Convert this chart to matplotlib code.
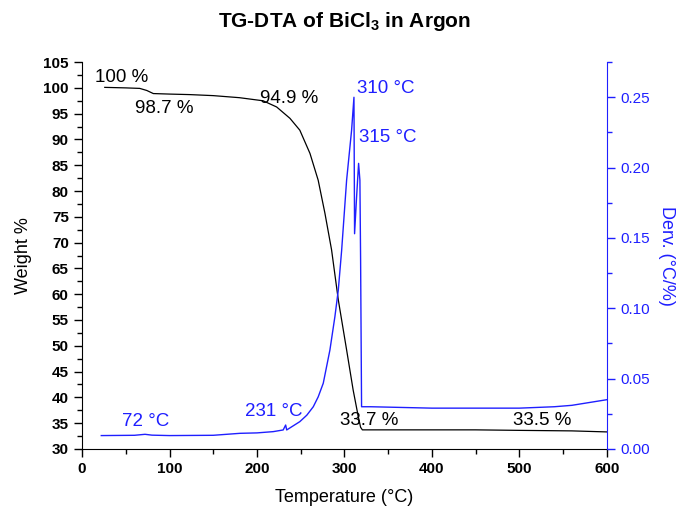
import matplotlib
matplotlib.use("Agg")
import matplotlib.pyplot as plt
from matplotlib.ticker import MultipleLocator

plt.rcParams['font.family'] = ['Liberation Sans', 'DejaVu Sans']
plt.rcParams['mathtext.fontset'] = 'custom'
plt.rcParams['mathtext.rm'] = 'Liberation Sans'
plt.rcParams['mathtext.bf'] = 'Liberation Sans:bold'

# TG curve (weight %)
tg_temp = [26, 50, 66, 74, 81.5, 100, 123, 150, 180, 207, 222.5, 237.7, 249, 260.6,
           270, 277.7, 285.3, 293, 302.5, 310, 315.8, 318.5, 320.5, 350, 450, 500,
           560, 600]
tg_weight = [100.1, 100.0, 99.9, 99.5, 98.9, 98.8, 98.7, 98.5, 98.1, 97.5, 96.3, 94.1,
             91.8, 87.3, 82.1, 75.7, 68.6, 58.9, 49.2, 41.4, 36.3, 34.2, 33.7, 33.7,
             33.7, 33.6, 33.5, 33.3]

# DTA / derivative curve
dta_temp = [22, 60, 72, 80, 100, 150, 180.6, 200, 218.6, 230, 232.8, 234, 249, 257,
            264.4, 270, 275.8, 283.4, 289.1, 293, 296.8, 302.5, 308.2, 310.9, 311.6,
            313.9, 316.2, 317.7, 318.5, 319.6, 330, 400, 500, 540, 560, 580, 600]
dta_derv = [0.0095, 0.0097, 0.0104, 0.0098, 0.0095, 0.0097, 0.0111, 0.0114, 0.0123,
            0.0135, 0.0170, 0.0135, 0.0194, 0.0240, 0.0300, 0.0370, 0.0467, 0.0703,
            0.0940, 0.1130, 0.1410, 0.1910, 0.2266, 0.2500, 0.1530, 0.1790, 0.2030,
            0.1910, 0.1340, 0.0300, 0.0300, 0.0290, 0.0290, 0.0300, 0.0310, 0.0330,
            0.0350]

blue = '#1f1fff'

fig = plt.figure(figsize=(6.78, 5.09), dpi=100)
ax = fig.add_axes([0.121, 0.118, 0.774, 0.760])
ax2 = ax.twinx()

ax.plot(tg_temp, tg_weight, color='black', lw=0.9)
ax2.plot(dta_temp, dta_derv, color=blue, lw=1.0)

ax.set_xlim(0, 600)
ax.set_ylim(30, 105)
ax2.set_ylim(0, 0.275)

ax.xaxis.set_major_locator(MultipleLocator(100))
ax.xaxis.set_minor_locator(MultipleLocator(50))
ax.yaxis.set_major_locator(MultipleLocator(5))
ax.yaxis.set_minor_locator(MultipleLocator(2.5))
ax2.yaxis.set_major_locator(MultipleLocator(0.05))
ax2.yaxis.set_minor_locator(MultipleLocator(0.025))
ax2.yaxis.set_major_formatter(plt.FormatStrFormatter('%.2f'))

for a in (ax, ax2):
    a.spines['top'].set_visible(False)
ax.spines['right'].set_visible(False)
ax2.spines['left'].set_visible(False)
ax2.spines['bottom'].set_visible(False)
ax2.spines['right'].set_color(blue)

ax.tick_params(which='major', direction='out', length=6, width=1, labelsize=11)
ax.tick_params(which='minor', direction='out', length=3.5, width=1)
ax.tick_params(axis='y', which='both', right=False)
for lab in ax.get_xticklabels() + ax.get_yticklabels():
    lab.set_fontweight('bold')
ax2.tick_params(which='major', direction='out', length=6, width=1, labelsize=11,
                colors=blue)
ax2.tick_params(which='minor', direction='out', length=3.5, width=1, colors=blue)

ax.set_xlabel('Temperature (°C)', fontsize=13, labelpad=9)
ax.set_ylabel('Weight %', fontsize=13, labelpad=8)
ax2.set_ylabel('Derv. (°C/%)', fontsize=13, color=blue, rotation=-90, labelpad=18)
ax.set_title('TG-DTA of BiCl$_\\mathbf{3}$ in Argon', fontsize=15, fontweight='bold',
             pad=25)

# annotations
fs = 13.5
ax.text(15, 102.1, '100 %', fontsize=fs, va='center')
ax.text(60.6, 96.1, '98.7 %', fontsize=fs, va='center')
ax.text(203.4, 98.0, '94.9 %', fontsize=fs, va='center')
ax.text(294.9, 35.6, '33.7 %', fontsize=fs, va='center')
ax.text(492.6, 35.6, '33.5 %', fontsize=fs, va='center')
ax2.text(314.3, 0.2564, '310 °C', fontsize=fs, color=blue, va='center')
ax2.text(316.6, 0.2216, '315 °C', fontsize=fs, color=blue, va='center')
ax2.text(45.7, 0.0194, '72 °C', fontsize=fs, color=blue, va='center')
ax2.text(186.3, 0.0265, '231 °C', fontsize=fs, color=blue, va='center')

fig.savefig('out.png', dpi=100)
